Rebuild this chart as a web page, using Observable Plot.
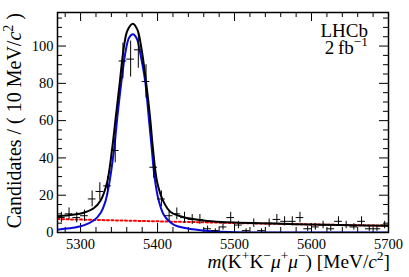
<!DOCTYPE html>
<html><head><meta charset="utf-8">
<script src="https://cdn.jsdelivr.net/npm/d3@7"></script>
<script src="https://cdn.jsdelivr.net/npm/@observablehq/plot@0.6"></script>
<style>body{margin:0;background:#fff}</style>
</head><body><div id="chart"></div>
<script>
// Data points (bin centres, 10 MeV bins) and counts
const binCenters = [5275,5285,5295,5305,5315,5325,5335,5345,5355,5365,5375,5385,5395,5405,5415,5425,5435,5445,5455,5465,5475,5485,5495,5505,5515,5525,5535,5545,5555,5565,5575,5585,5595,5605,5615,5625,5635,5645,5655,5665,5675,5685,5695];
const counts     = [8,10,8,9,18,22,25,44,92,93,98,81,35,18,9,10,8,7,7,2,1,3,8,4,1,5,1,5,7,6,6,8,2,3,4,2,6,4,3,6,2,2,4];

// Fit curves
const signalMass = [5270,5290,5304,5317,5326,5332,5337.5,5343.6,5348,5353,5358,5363,5368,5373,5378,5384,5388,5392,5396,5401,5408,5415,5422,5434,5456,5477,5500,5550,5700];
const signalVal  = [1.5,2.5,3.8,6.4,10.5,16.3,27,45,62.9,80.8,96,104.5,106.3,104,95,80.8,64,47,30,18,9.5,6,4,2.5,1.2,0.5,0.2,0.05,0];
const totalMass  = [5270,5290,5304,5317,5326,5334.5,5341,5346,5351,5356,5361,5368,5374,5379,5385,5390,5394,5399.5,5408,5417,5434,5456,5477,5500,5550,5600,5650,5700];
const totalVal   = [8.7,9.5,10.6,13,17.2,27,45,62.9,80.8,98.8,108.5,112,108.5,98.8,80.8,62.9,45,27,16.3,11,8.2,6.6,5.8,5.3,4.8,4.3,3.9,3.6];
const bkgMass    = [5270,5400,5500,5600,5700];
const bkgVal     = [7.2,6.0,5.1,4.3,3.6];

// Axis ticks
const xMajor = [5300,5400,5500,5600,5700];
const xMinor = [5280,5320,5340,5360,5380,5420,5440,5460,5480,5520,5540,5560,5580,5620,5640,5660,5680];
const yMajor = [0,20,40,60,80,100];
const yMinor = [5,10,15,25,30,35,45,50,55,65,70,75,85,90,95,105,110,115];

const pts = binCenters.map((m,i)=>({m, n: counts[i]}));
const sig = signalMass.map((m,i)=>({m, v: signalVal[i]}));
const tot = totalMass.map((m,i)=>({m, v: totalVal[i]}));
const bkg = bkgMass.map((m,i)=>({m, v: bkgVal[i]}));

const W = 409, H = 277, mL = 57, mR = 21, mT = 12, mB = 45;
const iw = W - mL - mR, ih = H - mT - mB;
const fam = "'Liberation Serif', 'Times New Roman', serif";

const svg = Plot.plot({
  width: W, height: H,
  marginLeft: mL, marginRight: mR, marginTop: mT, marginBottom: mB,
  x: {domain: [5270, 5700]},
  y: {domain: [0, 118]},
  style: {fontFamily: fam, fontSize: "14.5px", background: "white", color: "black"},
  marks: [
    Plot.axisX(xMajor, {tickSize: 0, tickPadding: 6, label: null, tickFormat: d => String(d)}),
    Plot.axisY(yMajor, {tickSize: 0, tickPadding: 4, label: null, tickFormat: d => String(d)}),
    // inward ticks, all four sides
    Plot.tickX(xMajor, {x: d=>d, insetTop: ih - 9, stroke: "black"}),
    Plot.tickX(xMinor, {x: d=>d, insetTop: ih - 5, stroke: "black"}),
    Plot.tickX(xMajor, {x: d=>d, insetBottom: ih - 9, stroke: "black"}),
    Plot.tickX(xMinor, {x: d=>d, insetBottom: ih - 5, stroke: "black"}),
    Plot.tickY(yMajor, {y: d=>d, insetRight: iw - 9, stroke: "black"}),
    Plot.tickY(yMinor, {y: d=>d, insetRight: iw - 5, stroke: "black"}),
    Plot.tickY(yMajor, {y: d=>d, insetLeft: iw - 9, stroke: "black"}),
    Plot.tickY(yMinor, {y: d=>d, insetLeft: iw - 5, stroke: "black"}),
    // fit components
    Plot.line(bkg, {x: "m", y: "v", stroke: "#ff0000", strokeWidth: 2, strokeDasharray: "2,2.5", clip: true}),
    Plot.line(sig, {x: "m", y: "v", stroke: "#0a0ad8", strokeWidth: 2, curve: "catmull-rom", clip: true}),
    Plot.line(tot, {x: "m", y: "v", stroke: "black", strokeWidth: 2, curve: "catmull-rom", clip: true}),
    // data with error bars
    Plot.ruleX(pts, {x: "m", y1: d=>Math.max(0, d.n - Math.sqrt(d.n)), y2: d=>d.n + Math.sqrt(d.n), stroke: "black", strokeWidth: 1}),
    Plot.ruleY(pts, {y: "n", x1: d=>d.m - 5, x2: d=>d.m + 5, stroke: "black", strokeWidth: 1}),
    Plot.frame({stroke: "black", strokeWidth: 1.5})
  ]
});
document.getElementById("chart").appendChild(svg);

// Titles with italics and superscripts
const s = d3.select(svg);
function rich(sel, parts, size) {
  let shifted = false;
  parts.forEach(p => {
    const t = sel.append("tspan").text(p.t);
    if (p.it) t.attr("font-style", "italic");
    if (p.sup && !shifted) { t.attr("dy", -size*0.4).attr("font-size", size*0.7); shifted = true; }
    else if (p.sup) { t.attr("font-size", size*0.7); }
    else if (shifted) { t.attr("dy", size*0.4); shifted = false; }
  });
}
const xt = s.append("text").attr("x", 390).attr("y", 268).attr("text-anchor", "end")
  .attr("font-family", fam).attr("font-size", 19.3).attr("fill", "black");
rich(xt, [{t:"m", it:true},{t:"(K"},{t:"+", sup:true},{t:"K"},{t:"\u2212", sup:true},{t:"\u03bc", it:true},{t:"+", sup:true},{t:"\u03bc", it:true},{t:"\u2212", sup:true},{t:") [MeV/"},{t:"c", it:true},{t:"2", sup:true},{t:"]"}], 19.3);

const yt = s.append("text").attr("transform", "translate(21,13) rotate(-90)").attr("text-anchor", "end")
  .attr("font-family", fam).attr("font-size", 20).attr("fill", "black");
rich(yt, [{t:"Candidates / ( 10 MeV/"},{t:"c", it:true},{t:"2", sup:true},{t:" )"}], 20);

s.append("text").attr("x", 368).attr("y", 36.5).attr("text-anchor", "end")
  .attr("font-family", fam).attr("font-size", 19).attr("fill", "black").text("LHCb");
const fb = s.append("text").attr("x", 368).attr("y", 53.5).attr("text-anchor", "end")
  .attr("font-family", fam).attr("font-size", 19).attr("fill", "black");
rich(fb, [{t:"2\u2009fb"},{t:"\u22121", sup:true}], 19);
</script>
</body></html>
